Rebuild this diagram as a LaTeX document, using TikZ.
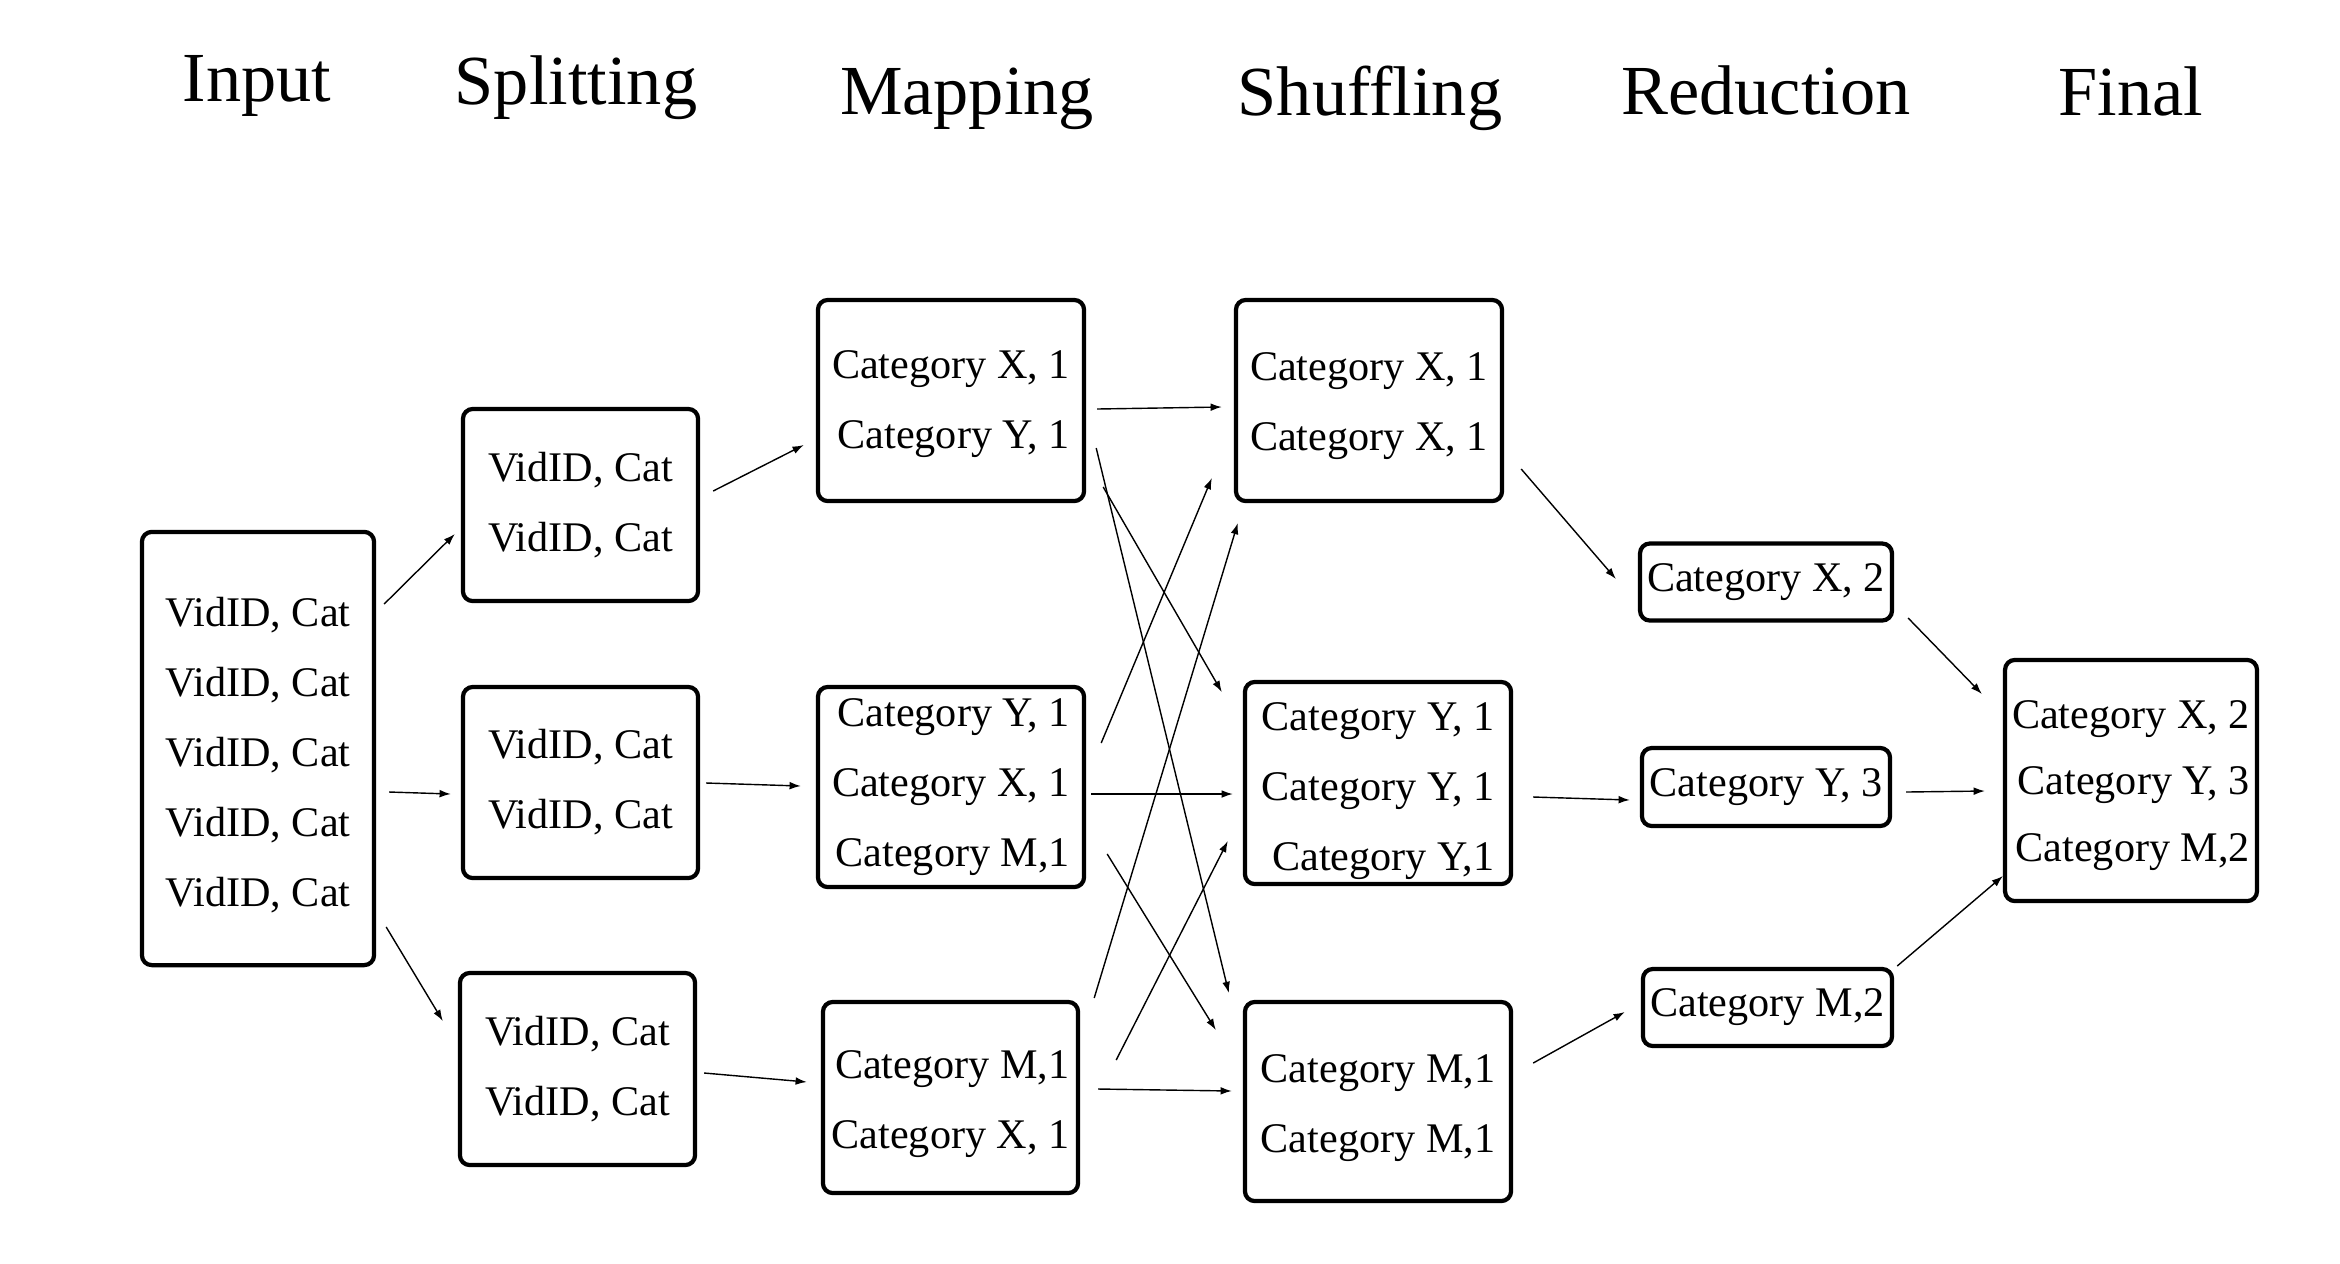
\documentclass[tikz,border=0pt]{standalone}
\usepackage{fontspec}
\setmainfont{Liberation Serif}
\usetikzlibrary{calc,arrows.meta}

% taller first line, so the text sits lower in its box
\newcommand{\topgap}[1]{\rule{0pt}{#1}}

\tikzset{
	stage/.style={anchor=base, font=\fontsize{20}{24}\selectfont},
	box/.style={draw, line width=1.2pt, rounded corners=2.8pt, align=right,
		inner xsep=2pt, inner ysep=0pt, font=\fontsize{12}{19.9}\selectfont},
	conn/.style={line width=0.4pt, -{Latex[length=3.2pt,width=2.2pt]}},
}

\begin{document}
\begin{tikzpicture}[x=0.01cm, y=-0.01cm]
	\useasboundingbox (0,0) rectangle (2340,1263);
	
	% stage titles
	\node[stage] (tin) at (257,101) {Input};
	\node[stage] (tsplit) at (576,104) {Splitting};
	\node[stage] (tmap) at (967,114) {Mapping};
	\node[stage] (tshuf) at (1370,115) {Shuffling};
	\node[stage] (tred) at (1766,114) {Reduction};
	\node[stage] (tfin) at (2131,115) {Final};
	
	% input and splitting
	\node[box, minimum width=2.32cm, minimum height=4.33cm] (in) at (258,748.5)
	{\topgap{12.2pt}VidID, Cat\\VidID, Cat\\VidID, Cat\\VidID, Cat\\VidID, Cat};
	\node[box, minimum width=2.35cm, minimum height=1.92cm] (sp1) at (580.5,505) {VidID, Cat\\VidID, Cat};
	\node[box, minimum width=2.35cm, minimum height=1.91cm] (sp2) at (580.5,782.5) {VidID, Cat\\VidID, Cat};
	\node[box, minimum width=2.35cm, minimum height=1.92cm] (sp3) at (577.5,1069) {VidID, Cat\\VidID, Cat};
	
	% mapping
	\node[box, minimum width=2.66cm, minimum height=2.01cm] (map1) at (951,400.5) {\topgap{9.9pt}Category X, 1\\Category Y, 1};
	\node[box, minimum width=2.66cm, minimum height=2.00cm] (map2) at (951,787) {Category Y, 1\\Category X, 1\\Category M,1};
	\node[box, minimum width=2.55cm, minimum height=1.91cm] (map3) at (950.5,1097.5) {\topgap{11.6pt}Category M,1\\Category X, 1};
	
	% shuffling
	\node[box, minimum width=2.66cm, minimum height=2.01cm] (shuf1) at (1369,400.5) {\topgap{11.3pt}Category X, 1\\Category X, 1};
	\node[box, minimum width=2.66cm, minimum height=2.02cm] (shuf2) at (1378,783) {\topgap{12.8pt}Category Y, 1\\Category Y, 1\\Category Y,1};
	\node[box, minimum width=2.66cm, minimum height=1.99cm] (shuf3) at (1378,1101.5) {\topgap{11.6pt}Category M,1\\Category M,1};
	
	% reduction and final
	\node[box, minimum width=2.48cm, minimum height=0.77cm] (red1) at (1766,582) {Category X, 2};
	\node[box, minimum width=2.48cm, minimum height=0.78cm] (red2) at (1766,787) {Category Y, 3};
	\node[box, minimum width=2.49cm, minimum height=0.77cm] (red3) at (1767.5,1007.5) {Category M,2};
	\node[box, font=\fontsize{12}{18.9}\selectfont, minimum width=2.50cm, minimum height=2.41cm] (fin) at (2131,780.5)
	{\topgap{10.7pt}Category X, 2\\Category Y, 3\\Category M,2};
	
	% input -> splitting
	\draw[conn] ($(in.east)+(8,-144.5)$) -- ($(sp1.west)+(-6,29)$);
	\draw[conn] ($(in.east)+(13,43.5)$) -- ($(sp2.west)+(-10,11.5)$);
	\draw[conn] ($(in.east)+(10,178.5)$) -- ($(sp3.west)+(-15,-48)$);
	
	% splitting -> mapping
	\draw[conn] ($(sp1.east)+(13,-14)$) -- ($(map1.west)+(-12,44.5)$);
	\draw[conn] ($(sp2.east)+(6,0.5)$) -- ($(map2.west)+(-15,-1)$);
	\draw[conn] ($(sp3.east)+(7,4)$) -- ($(map3.west)+(-14,-15.5)$);
	
	% mapping -> shuffling
	\draw[conn] ($(map1.east)+(11,8.5)$) -- ($(shuf1.west)+(-12,6.5)$);
	\draw[conn] ($(map1.east)+(17,86.5)$) -- ($(shuf2.west)+(-21,-91)$);
	\draw[conn] ($(map1.east)+(10,47.5)$) -- ($(shuf3.west)+(-14,-108.5)$);
	\draw[conn] ($(map2.east)+(15,-44)$) -- ($(shuf1.west)+(-22,77.5)$);
	\draw[conn] ($(map2.east)+(5,7)$) -- ($(shuf2.west)+(-10,11)$);
	\draw[conn] ($(map2.east)+(21,67)$) -- ($(shuf3.west)+(-27,-71.5)$);
	\draw[conn] ($(map3.east)+(14,-99.5)$) -- ($(shuf1.west)+(4,122.5)$);
	\draw[conn] ($(map3.east)+(36,-37.5)$) -- ($(shuf2.west)+(-15,58)$);
	\draw[conn] ($(map3.east)+(18,-8.5)$) -- ($(shuf3.west)+(-11,-10.5)$);
	
	% shuffling -> reduction
	\draw[conn] ($(shuf1.east)+(17,68.5)$) -- ($(red1.west)+(-22,-3)$);
	\draw[conn] ($(shuf2.east)+(20,14)$) -- ($(red2.west)+(-10,13)$);
	\draw[conn] ($(shuf3.east)+(20,-38.5)$) -- ($(red3.west)+(-16,4.5)$);
	
	% reduction -> final
	\draw[conn] ($(red1.east)+(14,36)$) -- ($(fin.west)+(-21,-86.5)$);
	\draw[conn] ($(red2.east)+(14,5)$) -- ($(fin.west)+(-18,10.5)$);
	\draw[conn] ($(red3.east)+(3,-41.5)$) -- ($(fin.west)+(0,95.5)$);
	
\end{tikzpicture}
\end{document}
